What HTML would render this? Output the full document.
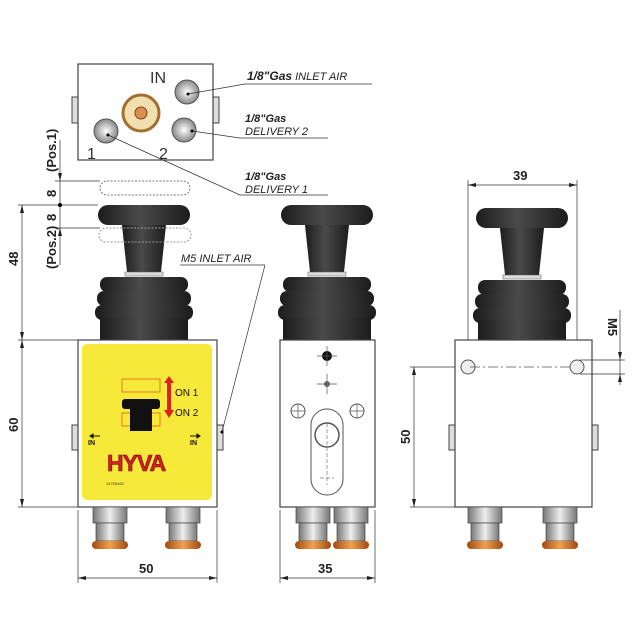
<!DOCTYPE html>
<html><head><meta charset="utf-8"><style>
html,body{margin:0;padding:0;background:#fff}
svg{display:block}
text{font-family:"Liberation Sans",sans-serif}
.lab{font-style:italic;font-size:11px;fill:#222}
.dim{font-size:13px;font-weight:bold;fill:#222}
</style></head><body>
<svg width="640" height="640" viewBox="0 0 640 640" xmlns="http://www.w3.org/2000/svg">
<defs>
<linearGradient id="rub" x1="0" x2="1" y1="0" y2="0">
<stop offset="0" stop-color="#1c1c1c"/><stop offset="0.45" stop-color="#4a4a4a"/><stop offset="1" stop-color="#1c1c1c"/></linearGradient>
<linearGradient id="met" x1="0" x2="1"><stop offset="0" stop-color="#777"/><stop offset="0.5" stop-color="#eee"/><stop offset="1" stop-color="#777"/></linearGradient>
<linearGradient id="cop" x1="0" x2="1"><stop offset="0" stop-color="#a04a10"/><stop offset="0.5" stop-color="#f0a050"/><stop offset="1" stop-color="#a04a10"/></linearGradient>
<radialGradient id="port"><stop offset="0" stop-color="#fff"/><stop offset="1" stop-color="#888"/></radialGradient>
<g id="knob">
<rect x="-46" y="0" width="92" height="20" rx="10" fill="url(#rub)"/>
<path d="M-22 20 L22 20 L17 67 L-17 67 Z" fill="url(#rub)"/>
<rect x="-19" y="67" width="38" height="4" fill="#ddd" stroke="#555" stroke-width="0.5"/>
<rect x="-44" y="72" width="88" height="15" rx="7" fill="url(#rub)"/>
<rect x="-47" y="86" width="94" height="15" rx="7" fill="url(#rub)"/>
<rect x="-49" y="100" width="98" height="15" rx="7" fill="url(#rub)"/>
<rect x="-44" y="112" width="88" height="24" fill="url(#rub)"/>
</g>
<g id="fit">
<rect x="0" y="0" width="34" height="16" fill="url(#met)" stroke="#444" stroke-width="0.7"/>
<rect x="3" y="16" width="28" height="18" fill="url(#met)" stroke="#444" stroke-width="0.7"/>
<rect x="-1" y="34" width="36" height="8" rx="4" fill="url(#cop)"/>
</g>
</defs>

<!-- Top view -->
<rect x="72" y="97" width="7" height="26" fill="#ddd" stroke="#444"/>
<rect x="212" y="97" width="7" height="26" fill="#ddd" stroke="#444"/>
<rect x="78" y="64" width="135" height="96" fill="#fff" stroke="#444" stroke-width="1.2"/>
<circle cx="141" cy="113" r="18" fill="#f3deb0" stroke="#a07030" stroke-width="3"/>
<circle cx="141" cy="113" r="6" fill="#d89050" stroke="#804010"/>
<circle cx="187" cy="92" r="12" fill="url(#port)" stroke="#555"/>
<circle cx="184" cy="130" r="12" fill="url(#port)" stroke="#555"/>
<circle cx="106" cy="131" r="12" fill="url(#port)" stroke="#555"/>
<text x="150" y="83" font-size="16" fill="#333">IN</text>
<text x="87" y="159" font-size="16" fill="#333">1</text>
<text x="159" y="159" font-size="16" fill="#333">2</text>
<g stroke="#333" stroke-width="0.8" fill="none">
<path d="M188 94 L245 84 L372 84"/>
<path d="M192 131 L240 138 L328 138"/>
<path d="M108 135 L240 195 L328 195"/>
</g>
<circle cx="188" cy="94" r="1.5"/><circle cx="192" cy="131" r="1.5"/><circle cx="108" cy="135" r="1.5"/>
<text x="247" y="80" class="lab"><tspan font-weight="bold" font-size="12">1/8"Gas</tspan> INLET AIR</text>
<text x="245" y="122" class="lab" font-weight="bold" font-size="12">1/8"Gas</text>
<text x="245" y="135" class="lab">DELIVERY 2</text>
<text x="245" y="180" class="lab" font-weight="bold" font-size="12">1/8"Gas</text>
<text x="245" y="193" class="lab">DELIVERY 1</text>

<!-- Left view -->
<rect x="100" y="181" width="90" height="14" rx="7" fill="none" stroke="#777" stroke-dasharray="2,1.5"/>
<use href="#knob" x="144" y="205"/>
<rect x="99" y="228" width="92" height="14" rx="7" fill="none" stroke="#999" stroke-dasharray="2,1.5"/>
<rect x="72" y="425" width="7" height="25" fill="#ddd" stroke="#444"/>
<rect x="216" y="425" width="7" height="25" fill="#ddd" stroke="#444"/>
<rect x="78" y="340" width="139" height="167" fill="#fff" stroke="#444" stroke-width="1.2"/>
<rect x="82" y="344" width="130" height="156" rx="5" fill="#f7e93a"/>
<rect x="122" y="379" width="38" height="13" fill="none" stroke="#e08020"/>
<rect x="122" y="413" width="38" height="13" fill="none" stroke="#e08020"/>
<rect x="122" y="399" width="38" height="10" rx="3" fill="#111"/>
<rect x="130" y="408" width="22" height="23" fill="#111"/>
<path d="M164 383 l5 -7 l5 7 h-3 v15 h-4 v-15z" fill="#e02020"/>
<path d="M164 410 l5 8 l5 -8 h-3 v-12 h-4 v12z" fill="#e02020"/>
<text x="175" y="396" font-size="10" fill="#111">ON 1</text>
<text x="175" y="416" font-size="10" fill="#111">ON 2</text>
<text x="88" y="445" font-size="7" font-weight="bold" fill="#111">IN</text>
<path d="M90 436 h10 M90 436 l3 -2 v4z" stroke="#111" fill="#111"/>
<text x="190" y="445" font-size="7" font-weight="bold" fill="#111">IN</text>
<path d="M190 436 h10 M200 436 l-3 -2 v4z" stroke="#111" fill="#111"/>
<text x="107" y="471" font-size="23" font-weight="bold" fill="#d81f26" stroke="#600" stroke-width="0.6" letter-spacing="-1">HYVA</text>
<text x="106" y="485" font-size="4" fill="#333">14755460</text>
<use href="#fit" x="93" y="507"/>
<use href="#fit" x="166" y="507"/>

<!-- Middle view -->
<use href="#knob" x="327" y="205"/>
<rect x="280" y="340" width="95" height="167" fill="#fff" stroke="#444" stroke-width="1.2"/>
<circle cx="327" cy="356" r="5" fill="#111"/>
<path d="M317 356h20M327 346v20M317 384h20M327 374v20" stroke="#555" stroke-width="0.7"/>
<circle cx="327" cy="384" r="3" fill="#666"/>
<circle cx="298" cy="411" r="7" fill="none" stroke="#555"/><path d="M291 411h14M298 404v14" stroke="#555" stroke-width="0.7"/>
<circle cx="357" cy="411" r="7" fill="none" stroke="#555"/><path d="M350 411h14M357 404v14" stroke="#555" stroke-width="0.7"/>
<rect x="311" y="409" width="32" height="86" rx="16" fill="none" stroke="#555"/>
<circle cx="327" cy="435" r="12" fill="none" stroke="#555" stroke-width="1.5"/>
<path d="M320 478h14M327 471v14M327 423v60" stroke="#777" stroke-width="0.7" stroke-dasharray="4,2"/>
<use href="#fit" x="296" y="507"/>
<use href="#fit" x="334" y="507"/>

<!-- Right view -->
<use href="#knob" x="522" y="208"/>
<rect x="449" y="425" width="7" height="25" fill="#ddd" stroke="#444"/>
<rect x="591" y="425" width="7" height="25" fill="#ddd" stroke="#444"/>
<rect x="455" y="340" width="137" height="167" fill="#fff" stroke="#444" stroke-width="1.2"/>
<circle cx="468" cy="367" r="7" fill="#eee" stroke="#555"/>
<circle cx="577" cy="367" r="7" fill="#eee" stroke="#555"/>
<path d="M470 367h100" stroke="#555" stroke-width="0.7" stroke-dasharray="10,3,2,3"/>
<use href="#fit" x="468" y="507"/>
<use href="#fit" x="543" y="507"/>

<!-- Dimensions -->
<g stroke="#333" stroke-width="0.7" fill="none">
<path d="M18 205 H98 M18 340 H78 M18 507 H78 M22 205 V340 M22 340 V507"/>
<path d="M55 181 H100 M55 228 H100 M60 140 V265"/>
<path d="M78 510 V583 M217 510 V583 M78 578 H217"/>
<path d="M280 510 V583 M375 510 V583 M280 578 H375"/>
<path d="M468 180 V340 M577 180 V340 M468 185 H577"/>
<path d="M410 367 H455 M410 507 H455 M414 367 V507"/>
<path d="M580 360 H625 M580 374 H625 M620 310 V385"/>
<path d="M180 265 H265 M265 265 L222 432"/>
</g>
<circle cx="222" cy="432" r="1.5"/>
<circle cx="60" cy="205" r="2"/>
<g fill="#222">
<path d="M22 205 l-2 8 h4z M22 340 l-2 -8 h4z M22 340 l-2 8 h4z M22 507 l-2 -8 h4z"/>
<path d="M60 181 l-2 -8 h4z M60 228 l-2 8 h4z"/>
<path d="M78 578 l8 -2 v4z M217 578 l-8 -2 v4z M280 578 l8 -2 v4z M375 578 l-8 -2 v4z"/>
<path d="M468 185 l8 -2 v4z M577 185 l-8 -2 v4z M414 367 l-2 8 h4z M414 507 l-2 -8 h4z"/>
<path d="M620 360 l-2 -8 h4z M620 374 l-2 8 h4z"/>
</g>
<text class="dim" transform="translate(18,266) rotate(-90)">48</text>
<text class="dim" transform="translate(18,432) rotate(-90)">60</text>
<text class="dim" transform="translate(56,197) rotate(-90)">8</text>
<text class="dim" transform="translate(56,221) rotate(-90)">8</text>
<text class="dim" font-size="12" transform="translate(56,172) rotate(-90)">(Pos.1)</text>
<text class="dim" font-size="12" transform="translate(56,269) rotate(-90)">(Pos.2)</text>
<text class="dim" x="139" y="573">50</text>
<text class="dim" x="318" y="573">35</text>
<text class="dim" x="513" y="180">39</text>
<text class="dim" transform="translate(410,444) rotate(-90)">50</text>
<text class="dim" transform="translate(608,318) rotate(90)">M5</text>
<text x="181" y="262" class="lab">M5 INLET AIR</text>
</svg>
</body></html>
